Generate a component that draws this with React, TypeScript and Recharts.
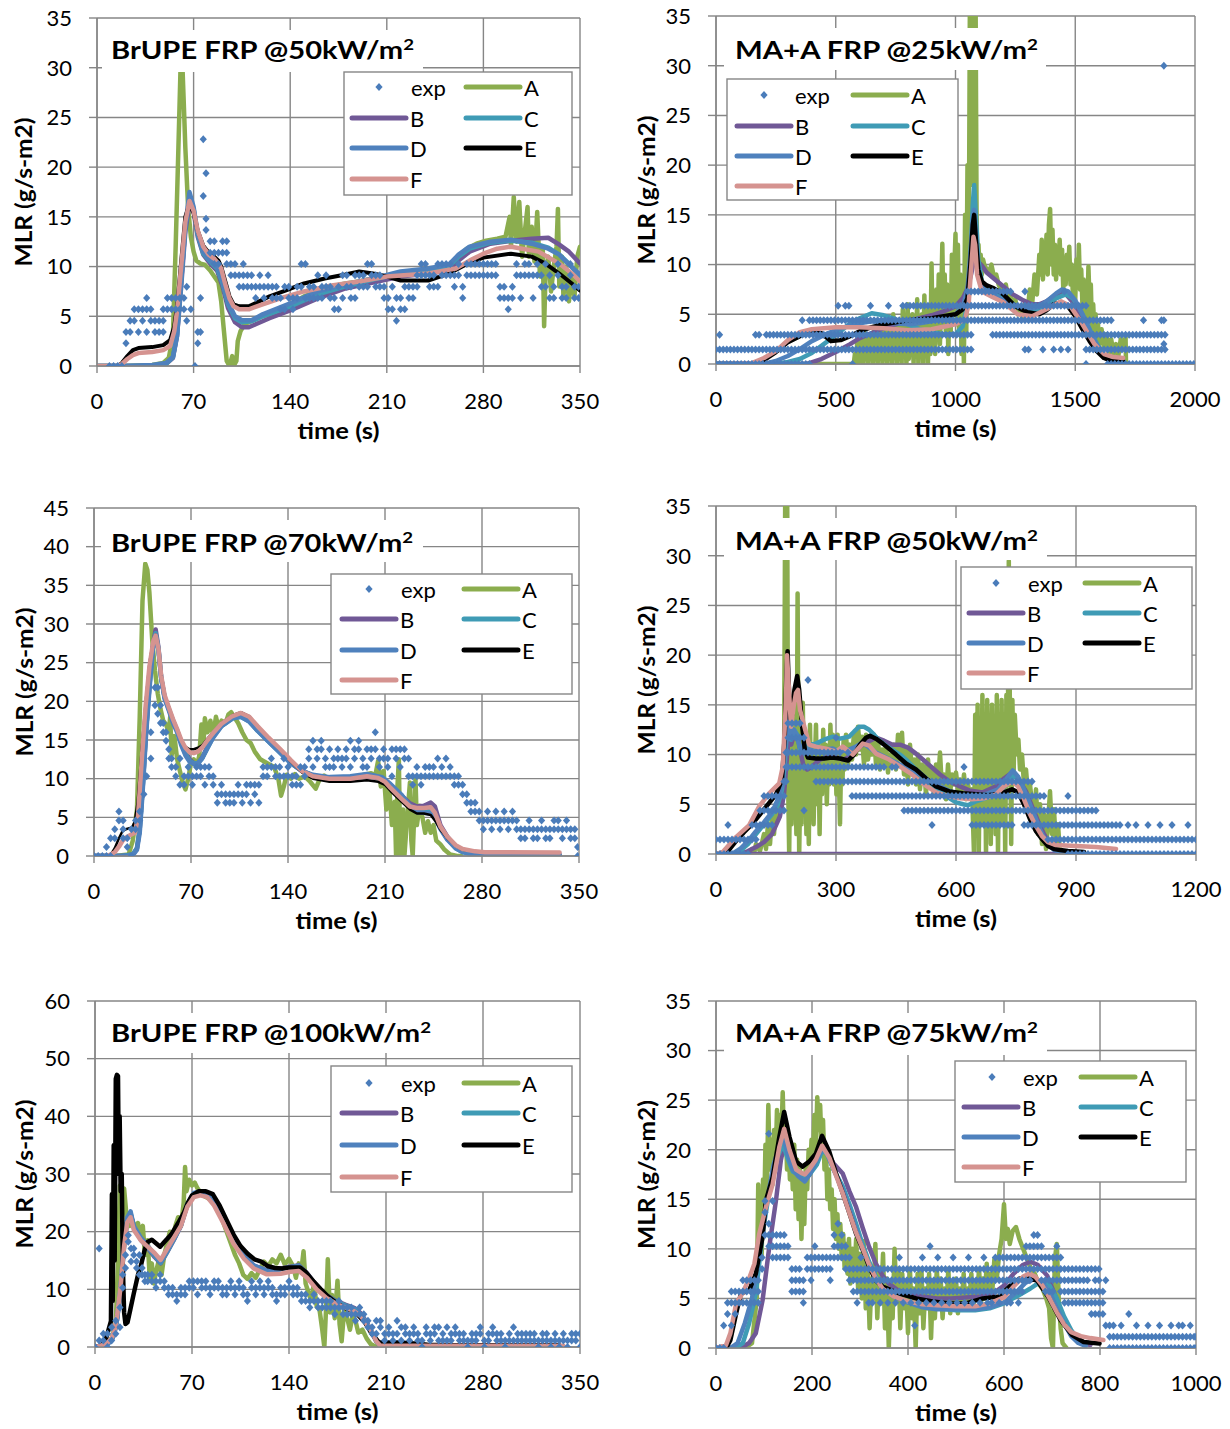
import React from 'react';
import { ComposedChart, Line, Scatter, XAxis, YAxis, CartesianGrid } from 'recharts';

const FONT = 'Lato, "Open Sans", sans-serif';
const GRID = '#868686';
const COLORS: Record<string, string> = { exp: '#4A7CBA', A: '#8BAD4E', B: '#705896', C: '#3F9BB5', D: '#4F81BD', E: '#000000', F: '#D59390' };

const ticks350 = [0, 70, 140, 210, 280, 350];
const ticks2000 = [0, 500, 1000, 1500, 2000];
const ticks1200 = [0, 300, 600, 900, 1200];
const ticks1000 = [0, 200, 400, 600, 800, 1000];
const yTicks35 = [0, 5, 10, 15, 20, 25, 30, 35];
const yTicks45 = [0, 5, 10, 15, 20, 25, 30, 35, 40, 45];
const yTicks60 = [0, 10, 20, 30, 40, 50, 60];

// ---------------- Panel 1: BrUPE FRP @50 ----------------
const p1A = [[0,0],[10,0],[20,0],[30,0.05],[40,0.1],[48,0.3],[52,0.8],[55,3],[57,12],[59,22],[60.5,29.8],[62,29.8],[63,26],[64,22],[66,16],[68,13],[70,11.5],[72,10.6],[75,10.3],[78,10.2],[82,9.6],[86,8.8],[88,8.4],[90,6.5],[92,3.5],[94,0.5],[96,0],[98,1],[99,0],[101,0.5],[102,2.5],[104,3.5],[107,4.2],[110,4.4],[115,4.7],[120,5],[130,5.5],[140,6.2],[150,7],[160,7.5],[170,8],[180,8.3],[190,8.5],[200,8.8],[210,9],[220,9.2],[230,9.3],[240,9.5],[250,9.7],[258,10],[262,11],[268,11.8],[275,12.3],[282,12.6],[290,12.8],[296,13],[299,15],[300,12],[302,17],[304,12.5],[306,16.5],[308,11],[310,13.5],[312,16],[313,11],[315,14],[317,10.5],[319,15.5],[321,9],[323,12],[324,4],[325,9],[327,11],[329,7.5],[331,10],[333,12],[334,15.8],[335,8],[337,11],[338,7],[340,10],[342,6.5],[344,9],[346,7],[348,11],[350,12]];
const p1B = [[0,0],[20,0],[40,0],[50,0.2],[55,0.8],[58,3],[61,8],[64,13.5],[67,16.3],[70,15.5],[73,13],[77,11.2],[82,10.3],[87,9.6],[91,8],[95,5.8],[100,4.4],[105,3.9],[110,3.9],[115,4.2],[125,4.8],[140,5.6],[160,6.8],[180,7.8],[200,8.4],[220,9],[240,9.3],[255,9.6],[262,10.6],[270,11.5],[285,12.3],[300,12.6],[315,12.8],[327,12.9],[335,12.2],[342,11.5],[350,10.3]];
const p1C = [[0,0],[20,0],[40,0],[50,0.2],[55,0.9],[58,3.2],[61,8.5],[64,14],[67,17],[70,15.8],[73,13.2],[77,11.3],[82,10.5],[87,9.8],[91,8.3],[95,6.2],[100,4.8],[105,4.4],[112,4.5],[120,5],[140,6],[160,7.2],[180,8],[200,8.7],[220,9.3],[240,9.6],[255,10],[262,11],[270,11.8],[285,12.4],[300,12.6],[315,12.4],[327,11.9],[335,11.2],[342,10.3],[350,9]];
const p1D = [[0,0],[10,0],[20,0],[40,0.1],[50,0.3],[55,0.9],[58,3],[61,8.5],[64,14],[67,17.5],[70,16],[73,13.3],[77,11.5],[82,10.6],[87,10],[91,8.6],[95,6.4],[100,5],[105,4.6],[112,4.6],[120,5.2],[140,6.3],[160,7.5],[180,8.2],[200,8.8],[220,9.5],[240,9.8],[255,10.2],[262,11.2],[270,12],[285,12.5],[300,12.7],[315,12.3],[327,11.8],[335,11.2],[342,10.2],[350,9.2]];
const p1E = [[0,0],[15,0],[18,0.3],[22,1],[26,1.6],[30,1.8],[40,1.9],[48,2.1],[53,2.6],[56,4],[58,6],[61,10.5],[64,15],[67,16.3],[70,15.4],[73,13.6],[77,12.1],[81,11.4],[85,11],[88,10.6],[90,10],[93,8.5],[96,7],[99,6.2],[103,6],[110,6],[116,6.4],[125,7],[137,7.6],[150,8.3],[165,8.8],[180,9.2],[190,9.5],[200,9.3],[210,9],[220,8.6],[240,8.6],[255,9.3],[262,9.8],[270,10.4],[280,10.9],[300,11.3],[315,11],[325,10.3],[335,9.3],[345,8.2],[350,7.6]];
const p1F = [[0,0],[15,0],[18,0.2],[22,0.7],[26,1.1],[30,1.3],[40,1.4],[48,1.6],[53,2],[56,3.5],[58,5.5],[61,10],[64,14.5],[67,16.6],[70,15.6],[73,13.6],[77,12],[81,11.2],[85,10.8],[88,10.3],[90,9.8],[93,8.2],[96,6.8],[99,6],[103,5.7],[110,5.7],[120,6.2],[135,6.9],[150,7.5],[170,8.1],[190,8.5],[210,9],[240,9.3],[260,9.8],[270,10.6],[280,11.3],[290,11.8],[300,12],[320,11.5],[335,10.3],[345,9.2],[350,8.5]];
const p1Exp = [[9,0],[12,0],[15,0],[18,0],[21,2.28,3.42],[24,3.42,4.56],[27,4.56,5.7],[30,3.42,5.7],[33,4.56,5.7],[36,3.42,5.7,6.84],[39,4.56,5.7],[42,3.42,4.56],[45,4.56,3.42],[48,5.7,4.56,3.42],[51,5.7,6.84],[54,6.84,5.7],[57,5.7,6.84],[60,6.84,5.7],[63,5.7,6.84],[65,7.98,4.56],[68,5.7],[71,0],[73,2.28,3.42],[75,3.42,6.84],[77,22.8,17.1],[79,19.38,14.82,13.68],[82,12.54,11.4],[85,12.54,11.4,10.26],[88,11.4,10.26],[91,12.54,11.4],[94,11.4,10.26,12.54],[97,10.26,9.12],[100,10.26,9.12],[103,9.12,7.98],[106,7.98,9.12,10.26],[109,9.12,7.98],[112,9.12,7.98],[115,7.98,6.84],[118,9.12,7.98],[121,7.98,6.84],[124,9.12,7.98],[127,6.84,7.98],[130,7.98,6.84],[133,6.84,5.7],[136,7.98,5.7],[139,6.84,7.98],[142,5.7,6.84],[145,6.84,7.98],[148,10.26,7.98],[151,10.26,6.84],[154,7.98,6.84],[157,7.98,6.84],[160,6.84,9.12],[163,7.98,6.84],[166,9.12,7.98],[169,7.98,6.84],[172,6.84,5.7],[175,7.98,5.7],[178,9.12,6.84],[181,7.98,9.12],[184,6.84,7.98],[187,9.12,6.84],[190,7.98,9.12],[193,9.12,7.98],[196,10.26,7.98],[199,10.26,9.12],[202,9.12,7.98],[205,7.98,9.12],[208,7.98,6.84],[211,6.84,5.7],[214,5.7,7.98],[217,6.84,4.56],[220,5.7,6.84],[223,5.7,7.98],[226,6.84,7.98],[229,7.98,6.84],[232,9.12,7.98],[235,10.26,9.12],[238,9.12,10.26],[241,7.98,9.12],[244,9.12,7.98],[247,7.98,10.26],[250,10.26,9.12],[253,9.12,10.26],[256,10.26,9.12],[259,9.12,7.98],[262,10.26,9.12],[265,7.98,6.84],[268,10.26,9.12],[271,10.26,9.12],[274,9.12,10.26],[277,10.26,9.12],[280,9.12,10.26],[283,10.26,9.12],[286,9.12,10.26],[289,10.26,9.12],[292,7.98,6.84],[295,6.84,7.98],[298,5.7,6.84],[301,6.84,7.98],[304,10.26,9.12],[307,9.12,6.84],[310,10.26,9.12],[313,10.26,9.12],[316,9.12,6.84],[319,10.26,9.12],[322,9.12,7.98],[325,10.26,7.98],[328,9.12,6.84],[331,7.98,6.84],[334,10.26,9.12],[337,7.98,6.84],[340,6.84,7.98],[343,10.26,9.12],[346,6.84,7.98],[349,7.98,6.84]];

// ---------------- Panel 2: MA+A FRP @25 ----------------
const p2A = [[0,0],[380,0],[500,0],[575,0],[580,1],[585,0],[590,2.5],[595,0],[600,3],[605,0.3],[610,2],[615,0],[620,3.5],[625,0.5],[630,2.5],[635,0],[640,3],[645,1],[650,2.5],[655,0],[660,3.5],[665,0.5],[670,2],[675,0],[680,3],[685,1],[690,3.5],[695,0],[700,2.5],[705,0.5],[710,4],[715,0],[720,3],[725,1],[730,3.5],[735,0],[740,5],[745,1],[750,3],[755,0],[760,4],[765,0.5],[770,3],[775,0],[780,5.5],[785,1],[790,4],[795,0],[800,6],[805,0.5],[810,3.5],[815,1.5],[820,5],[825,0],[830,4.5],[835,1],[840,6.5],[845,0],[850,4],[855,1],[860,5],[865,0],[870,6.9],[875,2],[880,4],[885,0],[890,5.5],[895,1],[900,10.1],[905,2],[910,6],[915,1],[920,7.5],[925,3],[930,9],[935,2],[940,6.5],[945,12.1],[950,4],[955,9],[960,3],[965,8],[970,1],[975,7],[980,3],[985,11],[990,5],[995,9.5],[1000,13.1],[1005,4],[1010,12],[1015,3],[1020,9],[1025,1],[1030,8],[1035,0],[1040,15],[1045,3],[1050,20],[1055,8],[1060,36],[1065,25],[1068,36],[1072,18],[1076,36],[1080,30],[1084,36],[1088,15],[1092,10],[1096,12],[1100,9.5],[1105,11],[1110,9],[1115,10.5],[1120,10],[1130,9.5],[1140,9.2],[1150,10],[1160,8.8],[1170,9],[1180,8],[1190,7.5],[1200,7.2],[1210,8],[1220,6.5],[1230,7],[1240,6],[1250,6.5],[1260,5],[1270,5.5],[1280,4.5],[1290,6],[1300,5],[1310,7.5],[1320,6],[1330,9],[1340,7],[1350,11],[1355,9],[1360,12.5],[1365,8.5],[1370,11.5],[1375,10],[1380,13],[1385,9],[1390,14],[1395,15.6],[1400,10],[1405,13.5],[1410,9],[1415,12],[1420,8.5],[1425,11],[1430,10],[1435,12.5],[1440,9],[1445,11.5],[1450,7.5],[1455,10.5],[1460,8],[1465,11],[1470,9],[1475,11.8],[1480,8],[1485,10],[1490,7],[1495,9.5],[1500,6.5],[1505,10.5],[1510,8],[1515,12],[1520,7.5],[1525,9.5],[1530,6],[1535,8.5],[1540,5],[1545,7.5],[1550,4.5],[1555,9.8],[1560,6],[1565,8],[1570,3.5],[1575,6],[1580,3],[1585,5],[1590,2.5],[1595,4],[1600,2],[1610,3.5],[1620,1.5],[1630,3],[1640,1],[1650,2.5],[1660,1],[1670,2],[1680,0.8],[1690,2.5],[1700,1.5],[1710,2.7],[1712,0]];
const p2B = [[0,0],[380,0],[440,0.5],[500,1.2],[560,2],[600,2.6],[650,3.1],[700,3.6],[750,4],[800,4.3],[850,4.6],[900,4.9],[950,5.3],[1000,5.8],[1030,6.6],[1050,7.6],[1065,9],[1078,10.5],[1090,10.4],[1110,9.9],[1130,9.2],[1160,8.6],[1200,7.8],[1240,7],[1283,6.4],[1320,6],[1350,6],[1380,6.3],[1410,6.8],[1440,7.1],[1465,6.9],[1490,6.2],[1520,5],[1550,3.6],[1580,2.2],[1610,1.1],[1640,0.5],[1670,0.3],[1700,0.3]];
const p2C = [[0,0],[250,0],[300,0.2],[350,0.5],[400,1.1],[450,2],[500,2.9],[550,3.9],[600,4.6],[650,5.1],[700,4.9],[750,4.5],[800,4],[850,3.5],[900,3.2],[950,3],[1000,3],[1030,3.8],[1050,6],[1062,10],[1072,16],[1078,18],[1085,15],[1095,10.5],[1110,8.3],[1130,7.6],[1160,7.2],[1200,6.6],[1250,5.9],[1300,5.4],[1340,5.4],[1380,5.9],[1420,6.6],[1460,7],[1490,6.6],[1520,5.5],[1550,4],[1580,2.5],[1610,1.2],[1640,0.4],[1670,0.2],[1700,0.2]];
const p2D = [[0,0],[200,0],[250,0.3],[300,0.8],[350,1.5],[400,2.3],[450,2.9],[500,3.4],[550,3.8],[600,4.1],[650,4.3],[700,4.2],[750,4.1],[800,4],[850,4.1],[900,4.3],[950,4.6],[1000,5],[1030,5.7],[1050,7.5],[1062,11],[1072,14.5],[1078,15.5],[1085,13],[1095,9.5],[1110,8],[1130,7.3],[1160,6.9],[1200,6.4],[1250,5.9],[1300,5.6],[1340,5.7],[1380,6.3],[1420,7.1],[1445,7.5],[1470,7.3],[1500,6.4],[1530,5],[1560,3.4],[1590,1.9],[1620,0.8],[1650,0.3],[1700,0.2]];
const p2E = [[0,0],[150,0],[200,0.4],[250,1.2],[300,2.2],[350,2.8],[400,3.2],[440,3.1],[480,2.3],[520,2.4],[560,2.8],[600,3.3],[650,3.7],[700,4],[750,4.2],[800,4.4],[850,4.5],[900,4.6],[950,4.8],[1000,5],[1030,5.5],[1050,6.6],[1062,10],[1072,14],[1078,15],[1085,12.5],[1095,9.5],[1110,8.3],[1130,7.9],[1160,7.6],[1200,7],[1250,5.8],[1300,5.2],[1350,5],[1380,5.4],[1410,6],[1440,6.2],[1470,5.8],[1500,4.8],[1530,3.5],[1560,2.3],[1590,1.3],[1620,0.6],[1650,0.3],[1700,0.25]];
const p2F = [[0,0],[150,0.1],[200,0.6],[250,1.3],[300,2.4],[350,3.2],[400,3.5],[500,3.7],[600,3.7],[700,3.6],[800,3.4],[900,3.5],[1000,4],[1040,4.5],[1055,6],[1065,9.5],[1075,12.8],[1082,12],[1090,9],[1110,7.3],[1150,6.8],[1200,6.2],[1260,5],[1320,4.8],[1380,5.5],[1440,6.3],[1480,5.8],[1530,4],[1580,2],[1620,1],[1660,0.7],[1700,0.6]];
const p2Exp = [[0,0,1.46],[15,0,1.46,2.93],[30,0,1.46],[45,0,1.46],[60,0,1.46],[75,0,1.46],[90,0,1.46],[105,0,1.46],[120,0,1.46],[135,0,1.46],[150,0,1.46],[165,0,1.46,2.93],[180,0,1.46,2.93],[195,0,1.46],[210,0,1.46,2.93],[225,0,1.46,2.93],[240,0,1.46,2.93],[255,0,1.46,2.93],[270,0,1.46,2.93],[285,0,1.46,2.93],[300,0,1.46,2.93],[315,0,1.46,2.93],[330,0,1.46,2.93],[345,0,1.46,2.93],[360,0,1.46,2.93,4.39],[375,0,1.46,2.93],[390,0,1.46,2.93,4.39],[405,1.46,2.93,4.39],[420,1.46,2.93,4.39],[435,1.46,2.93,4.39],[450,1.46,2.93,4.39],[465,1.46,2.93,4.39],[480,1.46,2.93,4.39],[495,1.46,2.93,4.39],[510,1.46,2.93,4.39,5.85],[525,1.46,2.93,4.39],[540,1.46,2.93,4.39,5.85],[555,1.46,2.93,4.39,5.85],[570,0,1.46,2.93,4.39],[585,1.46,2.93,4.39],[600,1.46,2.93,4.39],[615,1.46,2.93,4.39],[630,1.46,2.93,4.39],[645,1.46,2.93,4.39,5.85],[660,1.46,2.93,4.39],[675,1.46,2.93,4.39],[690,1.46,2.93,4.39],[705,1.46,2.93,4.39],[720,1.46,2.93,4.39,5.85],[735,1.46,2.93,4.39],[750,1.46,2.93,4.39],[765,1.46,2.93,4.39],[780,1.46,2.93,4.39,5.85],[795,1.46,2.93,4.39,5.85],[810,1.46,2.93,4.39,5.85],[825,1.46,2.93,4.39,5.85],[840,1.46,2.93,4.39,5.85],[855,1.46,2.93,4.39,5.85],[870,1.46,2.93,4.39,5.85],[885,1.46,2.93,4.39,5.85],[900,1.46,2.93,4.39,5.85],[915,1.46,2.93,4.39,5.85],[930,1.46,2.93,4.39,5.85],[945,1.46,2.93,4.39,5.85],[960,1.46,2.93,4.39,5.85],[975,1.46,2.93,4.39,5.85],[990,1.46,2.93,4.39,5.85],[1005,1.46,2.93,4.39,5.85],[1020,1.46,2.93,4.39,5.85],[1035,1.46,2.93,4.39,5.85],[1050,1.46,2.93,4.39,5.85,7.3],[1065,1.46,2.93,4.39,5.85,7.3],[1080,4.39,5.85,7.3],[1095,4.39,5.85,7.3],[1110,4.39,5.85,7.3],[1125,4.39,5.85,7.3],[1140,4.39,5.85,7.3],[1155,2.93,4.39,5.85,7.3],[1170,2.93,4.39,5.85,7.3],[1185,2.93,4.39,5.85,7.3],[1200,2.93,4.39,5.85,7.3],[1215,2.93,4.39,5.85,7.3],[1230,2.93,4.39,5.85,7.3],[1245,2.93,4.39,5.85],[1260,2.93,4.39,5.85],[1275,2.93,4.39,5.85],[1290,1.46,2.93,4.39,5.85,7.3],[1305,1.46,2.93,4.39,5.85],[1320,2.93,4.39,5.85],[1335,2.93,4.39,5.85],[1350,2.93,4.39,5.85],[1365,1.46,2.93,4.39,5.85],[1380,2.93,4.39,5.85],[1395,2.93,4.39,5.85],[1410,1.46,2.93,4.39,5.85],[1425,2.93,4.39,5.85],[1440,1.46,2.93,4.39,5.85],[1455,2.93,4.39,5.85,7.3],[1470,1.46,2.93,4.39,5.85],[1485,2.93,4.39,5.85],[1500,2.93,4.39,5.85],[1515,2.93,4.39,5.85],[1530,2.93,4.39,5.85],[1545,0,1.46,2.93,4.39,5.85],[1560,1.46,2.93,4.39],[1575,1.46,2.93,4.39],[1590,1.46,2.93,4.39],[1605,1.46,2.93,4.39],[1620,1.46,2.93,4.39],[1635,0,1.46,2.93,4.39],[1650,0,1.46,2.93,4.39],[1665,0,1.46,2.93],[1680,0,1.46,2.93],[1695,0,1.46,2.93],[1710,0,1.46,2.93],[1725,0,1.46,2.93],[1740,0,1.46,2.93],[1755,0,1.46,2.93],[1770,0,1.46,2.93],[1785,0,1.46,2.93,4.39],[1800,0,1.46,2.93],[1815,0,1.46,2.93],[1830,0,1.46,2.93],[1845,0,1.46,2.93],[1860,0,1.46,2.93,4.39],[1870,30,2.0,4.39],[1875,0,1.46,2.93],[1890,0],[1905,0],[1920,0],[1935,0],[1950,0],[1965,0],[1980,0],[1995,0]];

// ---------------- Panel 3: BrUPE FRP @70 ----------------
const p3A = [[0,0],[15,0],[25,0.2],[28,2],[31,6],[33,18],[35,33],[37,37.8],[38.5,37],[40,34],[42,28],[44,24],[46,21],[48,19],[50,17.5],[52,17],[54,16],[55,18],[56,13],[58,15.5],[60,12.5],[62,11],[64,9.5],[66,8.6],[68,10],[70,12],[72,12.5],[74,11.5],[76,13],[77.5,17],[79,14.5],[80,17.8],[82,16],[84,17.5],[86,15.5],[88,18],[90,16.5],[92,17.5],[95,17.2],[97,18.3],[99,18.6],[101,18],[104,17.2],[107,16],[110,15],[113,14.6],[116,13.5],[120,12.5],[125,12],[130,11.5],[133,10],[135,7.8],[137,9],[139,10.5],[142,10],[145,10.6],[148,10],[152,10.3],[156,9.6],[160,8.7],[163,10],[166,10.4],[170,9.8],[175,10],[180,10.1],[185,10],[190,10.3],[195,10.5],[200,10.7],[203,10.4],[205,12.3],[207,9],[209,11],[211,6],[213,9],[215,4],[217,7],[218,0],[219,9],[220,12.5],[221,0],[223,6],[224,0],[226,5],[228,9.5],[229,2],[230,0],[232,10],[233,4],[235,6.5],[237,5],[239,3],[241,4.5],[243,3],[245,4],[247,2],[250,1.5],[253,0.8],[257,0.2],[262,0],[265,0]];
const p3B = [[0,0],[20,0],[28,0.2],[31,1],[33,3.5],[35,8.5],[37.5,16],[40,22],[42.5,27.2],[44.5,29.3],[46.5,27],[48.5,23],[51,20.5],[54,19],[57,17.5],[60,16.2],[63,14.8],[66,13.5],[69,12.5],[72,12],[75,12],[78,12.7],[82,14.2],[86,15.5],[92,17],[100,18],[106,18.2],[112,17.6],[118,16.4],[126,15],[134,13.6],[142,12.1],[150,11],[158,10.4],[170,10],[185,10],[197,10.3],[208,10],[214,9],[222,7.8],[228,6.8],[233,6.4],[238,6.5],[243,6.9],[246,6.4],[250,4],[255,2.5],[261,1.2],[266,0.6],[275,0.3],[285,0.2],[300,0.2],[336,0.2]];
const p3C = [[0,0],[20,0],[28,0.2],[31,1],[33,3.5],[35,8.5],[37.5,16],[40,22],[42.5,27],[44.5,28.8],[46.5,26.8],[48.5,23],[51,20.5],[54,19],[57,17.5],[60,16.2],[63,14.6],[66,13.2],[69,12.3],[72,12],[75,12],[78,12.6],[82,14],[86,15.4],[92,16.8],[100,17.8],[106,18],[112,17.4],[118,16.2],[126,14.8],[134,13.4],[142,12],[150,11],[158,10.4],[170,10.1],[185,10.2],[197,10.5],[208,10.1],[214,9.2],[222,7.8],[228,6.5],[233,5.9],[238,5.9],[243,5.8],[246,5.2],[250,3.6],[255,2.2],[261,1],[266,0.5],[275,0.15],[300,0.1],[336,0.1]];
const p3D = [[0,0],[20,0],[28,0.1],[31,0.8],[33,3],[35,8],[37.5,15.5],[40,21.5],[42.5,26.8],[44.5,28.6],[46.5,26.6],[48.5,23],[51,20.3],[54,18.8],[57,17.2],[60,16],[63,14.3],[66,13],[69,12.2],[72,11.9],[75,12],[78,12.6],[82,14],[86,15.3],[92,16.8],[100,17.8],[106,18],[112,17.4],[118,16.2],[126,14.8],[134,13.4],[142,12],[150,11],[158,10.5],[170,10.2],[185,10.3],[197,10.6],[208,10.2],[214,9.3],[222,7.9],[228,6.4],[233,5.7],[238,5.6],[243,5.5],[246,5],[250,3.5],[255,2.1],[261,1],[266,0.5],[275,0.15],[300,0.1],[336,0.1]];
const p3E = [[0,0],[10,0],[12.5,0.3],[15,1],[18,2.3],[20.5,3.2],[23.5,3.5],[27.5,3.7],[29.5,4.5],[31.5,7],[34.5,14],[37.3,20],[40,25],[42.8,28],[44.5,28.6],[46.5,26.8],[48.5,23.3],[51,20.8],[54,19.2],[57,17.7],[60,16.4],[63,15],[66,14.1],[69,13.8],[72,13.8],[75,14],[78,14.3],[82,15.2],[86,16],[92,17.2],[100,18.2],[106,18.6],[112,18.1],[118,16.8],[126,15.3],[134,13.8],[142,12.2],[150,10.8],[158,10],[170,9.6],[185,9.6],[197,9.8],[205,9.6],[210,9.2],[214,8.4],[222,7],[228,6],[233,5.5],[238,5.5],[243,5.3],[246,4.6],[250,3.4],[255,2.3],[261,1.3],[266,0.8],[275,0.6],[282,0.5],[336,0.45]];
const p3F = [[0,0],[10,0],[15,0.5],[18,1.2],[20.7,2],[24,2.5],[27,2.8],[29.5,3],[31.7,5],[34.5,12.5],[37.3,19.5],[40,24.5],[42.8,27.8],[44.5,28.5],[46.5,26.8],[48.5,23.3],[51,20.8],[54,19.2],[57,17.7],[60,16.4],[63,15],[66,14],[69,13.4],[72,13.3],[75,13.5],[78,14],[82,15],[86,15.9],[92,17.1],[100,18.1],[106,18.5],[112,18],[118,16.8],[126,15.3],[134,13.9],[142,12.4],[150,11],[158,10.3],[170,10],[185,10],[197,10.3],[205,10.1],[210,9.6],[214,8.8],[222,7.4],[228,6.4],[233,6.2],[238,6.2],[243,6.3],[246,5.6],[250,3.8],[255,2.5],[261,1.4],[266,0.9],[275,0.6],[282,0.5],[336,0.45]];
const p3Exp = [[0,0],[3,0],[6,0],[9,0,1.15],[12,2.3,0],[15,2.3,3.45],[18,5.75,4.6],[21,4.6,3.45,2.3],[24,2.3,1.15],[27,0,3.45],[30,4.6,3.45],[33,5.75,4.6],[36,8.0],[38,10.3],[41,12.6,16],[44,21.8,19.5],[46,21.8,18.4],[48,17.2,19.5],[50,16,17.2],[52,14.9,16],[54,13.8,12.6],[56,12.6,11.5],[59,11.5,10.3],[62,9.2,12.6],[65,10.3,9.2],[68,11.5,10.3],[71,9.2,10.3],[74,11.5,10.3],[77,10.3,11.5],[80,9.2,11.5],[83,10.3,11.5],[86,9.2,10.3],[89,8.0,6.9],[92,9.2,8.0],[95,6.9,8.0],[98,8.0,6.9],[101,6.9,8.0],[104,8.0,9.2],[107,6.9,8.0],[110,8.0,9.2],[113,9.2,6.9],[116,8.0,9.2],[119,6.9,9.2],[122,11.5,10.3],[125,10.3,11.5],[128,11.5,12.6],[131,10.3,11.5],[134,11.5,10.3],[137,12.6,10.3],[140,11.5,10.3],[143,10.3,9.2],[146,9.2,10.3],[149,11.5,9.2],[152,10.3,11.5],[155,13.8,12.6],[158,14.9,11.5],[161,13.8,12.6],[164,14.9,13.8],[167,12.6,11.5],[170,13.8,11.5],[173,11.5,12.6],[176,12.6,13.8],[179,11.5,12.6],[182,13.8,12.6],[185,14.9,11.5],[188,12.6,13.8],[191,13.8,14.9],[194,11.5,12.6],[197,13.8,11.5],[200,12.6,13.8],[203,16,13.8],[206,11.5,12.6],[209,13.8,12.6],[212,12.6,11.5],[215,13.8,10.3],[218,12.6,13.8],[221,11.5,13.8],[224,13.8,12.6],[227,12.6,10.3],[230,10.3,9.2],[233,10.3,11.5],[236,9.2,10.3],[239,10.3,11.5],[242,10.3,11.5],[245,11.5,10.3],[248,10.3,12.6],[251,11.5,10.3],[254,12.6,10.3],[257,10.3,11.5],[260,9.2,10.3],[263,10.3,9.2],[266,8.0,9.2],[269,6.9,8.0],[272,5.75,6.9],[275,6.9,5.75],[278,5.75,4.6],[281,4.6,3.45],[284,4.6,5.75],[287,3.45,4.6],[290,5.75,4.6],[293,4.6,3.45],[296,5.75,4.6],[299,3.45,4.6],[302,4.6,5.75],[305,3.45,4.6],[308,2.3,3.45],[311,3.45,2.3],[314,4.6,3.45],[317,2.3,3.45],[320,3.45,2.3],[323,4.6,3.45],[326,3.45,2.3],[329,2.3,3.45],[332,3.45,4.6],[335,4.6,3.45],[338,2.3,3.45],[341,3.45,4.6],[344,2.3,3.45],[347,3.45,2.3],[349,1.15,0]];

// ---------------- Panel 4: MA+A FRP @50 ----------------
const p4A = [[0,0],[80,0],[90,0.5],[95,0],[100,1],[110,0.3],[120,2],[125,0.5],[130,3],[135,1],[140,4],[145,2],[150,5],[155,3.5],[160,6],[165,5],[170,7],[173,36],[178,36],[180,8],[183,0],[186,12],[189,3],[192,14],[195,6],[198,10],[201,2],[204,26.2],[206,10],[208,0],[211,8],[214,3],[217,15.2],[220,6],[223,12],[226,2],[229,9],[232,1],[235,13],[238,5],[241,11],[244,3],[247,9],[250,13],[253,5],[256,11],[259,2],[262,10],[265,6],[268,12.5],[271,8],[274,11],[277,5],[280,10],[283,7],[286,13],[289,9],[292,12],[295,7],[298,11],[301,6],[304,12],[307,8],[310,3],[313,10],[316,7],[319,11.5],[322,8.5],[325,12],[330,9],[335,11],[340,9.5],[345,12.2],[350,10],[355,12.8],[360,10.5],[365,11.8],[370,9],[375,12],[380,9.5],[385,11],[390,10],[395,12],[400,9],[405,11.5],[410,8.5],[415,10.5],[420,9],[425,11],[430,8.2],[435,10],[440,9],[445,11],[450,8.5],[455,12],[460,9.5],[465,12.2],[470,8],[475,10.5],[480,7],[485,11],[490,8],[495,9.5],[500,7],[505,10],[510,6.5],[515,9],[520,8.8],[525,6],[530,9.5],[535,7],[540,8.5],[545,6],[550,9],[555,7],[560,10.2],[565,6.5],[570,8],[575,5.5],[580,9],[585,6],[590,8],[595,7],[600,8.2],[605,6.5],[610,7.5],[615,6],[620,8],[625,5.5],[630,7],[635,5.8],[640,6.5],[645,0],[648,14],[651,2],[654,15],[657,0],[660,12],[663,3],[666,16],[669,5],[672,14],[675,0],[678,15.5],[681,8],[684,13],[687,1],[690,15],[693,6],[696,13],[699,2],[702,16],[705,0],[708,12],[711,5],[714,15.5],[717,3],[720,14],[723,0],[726,16],[729,7],[732,29.5],[735,13],[738,1],[741,15.5],[744,8],[747,14],[750,11.5],[753,10],[756,11.5],[760,8.5],[765,10],[770,7],[775,8.5],[780,6],[785,7],[790,5],[795,4],[800,6.5],[805,2],[810,5],[815,1],[820,4],[825,0.5],[830,3],[835,6.3],[840,2],[845,4.5],[850,0.5],[855,3],[860,0],[880,0]];
const p4B = [[0,0],[60,0],[80,0.3],[100,0.7],[120,1.2],[140,2],[160,3.8],[170,6],[178,10],[183,12.5],[188,11],[195,12],[203,12],[210,10.5],[218,9],[228,8.5],[240,8.8],[260,9.5],[280,9.8],[300,9.7],[320,9.5],[340,10],[360,10.8],[380,11.3],[400,11.7],[420,11.4],[440,11],[460,11],[480,10.7],[500,10.1],[520,9.4],[540,8.7],[560,8],[583,7.3],[610,6.8],[633,6.4],[667,6.2],[700,6.8],[720,7.6],[740,8.2],[755,7.6],[775,6.3],[790,4.8],[805,3.3],[820,2],[835,1],[850,0.5],[870,0.2],[924,0],[0,0]];
const p4C = [[0,0],[40,0],[60,0.3],[80,1],[100,2],[120,3],[140,4],[155,5],[165,6.5],[172,9],[178,13],[183,13.5],[188,11.5],[195,12.5],[203,12],[210,10.5],[220,10.8],[235,11],[250,11.1],[270,11.5],[292,11.8],[310,11.6],[333,11.8],[345,12.3],[358,12.8],[370,12.8],[383,12.5],[395,12],[408,11.4],[425,10.9],[440,10.5],[460,10],[480,9.3],[500,8.5],[520,7.8],[540,7],[560,6.3],[580,5.7],[600,5.2],[618,5],[630,4.9],[650,5.3],[680,5.7],[710,6.3],[730,7.2],[745,7.9],[760,7.3],[775,6],[790,4.3],[805,2.8],[820,1.6],[835,0.8],[850,0.4],[870,0.2]];
const p4D = [[0,0],[40,0],[60,0.5],[80,1.3],[100,2.3],[120,3.2],[140,4.2],[155,5.5],[165,7],[172,10],[178,14],[183,13],[188,12],[195,12.5],[203,11.8],[210,10.8],[220,10.5],[235,10.5],[250,10.3],[270,10.5],[292,10.6],[310,10.3],[333,10.5],[350,10.8],[365,11.2],[380,10.8],[400,10.2],[420,9.8],[440,9.4],[460,9],[480,8.6],[500,8.2],[520,7.7],[540,7.2],[560,6.8],[580,6.4],[600,6.1],[620,5.9],[650,5.8],[680,6.1],[705,6.5],[725,7.5],[742,8.4],[755,7.8],[770,6.5],[785,5],[800,3.5],[815,2],[830,1],[845,0.4],[870,0.2]];
const p4E = [[0,0],[15,0],[30,0.3],[50,1.3],[70,2.2],[90,3],[110,4],[130,5],[150,6],[165,7.5],[172,12],[176,18],[179,20.4],[182,17],[186,13],[190,14],[196,16.5],[203,17.9],[208,16.5],[215,13],[222,10.5],[230,9.7],[250,9.6],[270,9.6],[290,9.7],[310,9.6],[330,9.4],[345,10],[360,11],[375,11.7],[385,11.9],[400,11.6],[417,11.1],[435,10.5],[450,10],[475,9.1],[500,8.5],[525,7.6],[550,6.8],[583,6.3],[617,6.1],[650,6],[680,5.9],[700,6],[720,6.2],[740,6.5],[755,6.2],[770,5],[785,3.5],[800,2.3],[815,1.5],[830,0.8],[845,0.5],[860,0.4],[880,0.3],[920,0.2]];
const p4F = [[0,0],[17,0.2],[50,1.7],[83,2.9],[108,4.8],[133,6.1],[158,7.1],[167,8.8],[175,15.5],[177.5,20],[182,16.8],[187.5,12.8],[194,14.8],[200,16.2],[205,16.5],[210,14.5],[221,12.8],[233,11],[250,10.8],[275,10.6],[300,10.3],[317,10.8],[342,10],[367,11.1],[383,10.9],[400,10.1],[433,9.5],[460,8.8],[490,8],[520,7],[550,6.2],[580,5.8],[610,5.6],[640,5.5],[670,5.6],[700,6],[720,6.8],[740,7.3],[755,6.8],[770,5.5],[785,4],[800,2.8],[815,1.8],[830,1.2],[850,0.9],[900,0.8],[950,0.7],[1000,0.5]];
const p4Exp = [[0,0,1.46],[10,0,1.46],[20,0,1.46],[30,0,1.46,2.92],[40,0,1.46],[50,0,1.46],[60,0,1.46],[70,0,1.46],[80,0,1.46],[90,1.46,2.92],[100,1.46,2.92],[110,2.92,4.38],[120,2.92,4.38,5.84],[130,2.92,4.38,5.84],[140,2.92,4.38,5.84],[150,4.38,5.84],[160,4.38,5.84],[170,4.38,5.84,7.3],[175,8.76,10.22,7.3],[180,8.76,10.22,11.68,13.14],[190,10.22,11.68,13.14,8.76],[200,10.22,11.68,13.14,8.76],[210,8.76,10.22,11.68,13.14],[220,8.76,10.22,11.68,4.38],[230,17.5,8.76,10.22],[240,8.76,10.22],[250,7.3,8.76,10.22],[260,7.3,8.76,10.22],[270,7.3,8.76,10.22],[280,7.3,8.76,10.22],[290,7.3,8.76,10.22],[300,7.3,8.76,10.22,11.68],[310,7.3,8.76,10.22],[320,7.3,8.76],[330,7.3,8.76,10.22],[340,5.84,7.3,8.76],[350,5.84,7.3,8.76],[360,5.84,7.3,8.76],[370,5.84,7.3,8.76],[380,5.84,7.3,8.76],[390,5.84,7.3,8.76],[400,5.84,7.3,8.76],[410,5.84,7.3,8.76],[420,5.84,7.3,8.76],[430,5.84,7.3],[440,5.84,7.3,8.76],[450,5.84,7.3,8.76],[460,5.84,7.3],[470,4.38,5.84,7.3],[480,4.38,5.84,7.3],[490,4.38,5.84,7.3],[500,4.38,5.84,7.3],[510,4.38,5.84,7.3],[520,4.38,5.84,7.3],[530,4.38,5.84,7.3],[540,2.92,4.38,5.84,7.3],[550,4.38,5.84,7.3],[560,4.38,5.84,7.3],[570,4.38,5.84,7.3],[580,4.38,5.84,7.3],[590,4.38,5.84,7.3],[600,4.38,5.84,7.3],[610,4.38,5.84,7.3],[620,4.38,5.84,7.3,8.76],[630,4.38,5.84,7.3],[640,2.92,4.38,5.84,7.3],[650,2.92,4.38,5.84,7.3],[660,2.92,4.38,5.84,7.3],[670,2.92,4.38,5.84,7.3],[680,2.92,4.38,5.84,7.3],[690,2.92,4.38,5.84,7.3],[700,2.92,4.38,5.84,7.3],[710,2.92,4.38,5.84,7.3],[720,2.92,4.38,5.84,7.3],[730,2.92,4.38,5.84,7.3],[740,2.92,4.38,5.84,7.3],[750,4.38,5.84,7.3],[760,4.38,5.84,7.3],[770,2.92,4.38,5.84,7.3],[780,2.92,4.38,5.84,7.3],[790,2.92,4.38,5.84,7.3],[800,2.92,4.38,5.84],[810,2.92,4.38,5.84],[820,2.92,4.38,5.84],[830,1.46,2.92,4.38],[840,1.46,2.92,4.38],[850,1.46,2.92,4.38],[860,1.46,2.92,4.38],[870,1.46,2.92,4.38],[880,1.46,2.92,4.38,5.84,0],[890,1.46,2.92,4.38,0],[900,1.46,2.92,4.38,0],[910,1.46,2.92,4.38,0],[920,1.46,2.92,4.38,0],[930,1.46,2.92,4.38,0],[940,1.46,2.92,4.38,0],[950,1.46,2.92,4.38,0],[960,1.46,2.92,0],[970,1.46,2.92,0],[980,1.46,2.92,0],[990,1.46,2.92,0],[1000,1.46,2.92,0],[1010,1.46,2.92,0],[1020,1.46,0],[1030,1.46,0,2.92],[1040,1.46,0],[1050,1.46,0,2.92],[1060,1.46,0],[1070,1.46,0],[1080,1.46,0,2.92],[1090,1.46,0],[1100,1.46,0],[1110,1.46,0,2.92],[1120,1.46,0],[1130,1.46,0],[1140,1.46,0,2.92],[1150,1.46,0],[1160,1.46,0],[1170,1.46,0],[1180,1.46,0,2.92],[1190,1.46,0],[1200,1.46,0]];

// ---------------- Panel 5: BrUPE FRP @100 ----------------
const p5A = [[0,0],[8,0.5],[12,1.5],[15,4],[16.5,14],[18,28],[19.5,25],[21,27.5],[23,22],[25,21],[27,22],[29,20.5],[31,21.5],[33,19],[34.5,21],[36,16],[38,18.5],[39.5,12],[41,14.5],[42.5,11],[44,13],[46,15],[48,12.5],[50,16],[52,18],[54,20],[56,18.5],[58,21],[60,22.5],[62,21],[64,25],[65,31.2],[66,27],[68,29],[70,28],[72,28.5],[74,27.5],[77,26.5],[80,26],[84,25.5],[88,24],[92,22],[95,20],[98,18],[101,16],[104,14.5],[107,12.5],[110,11.8],[113,12.8],[116,12],[119,13.5],[122,14.8],[125,14],[128,15.2],[131,14.5],[134,16],[137,14.3],[140,15.3],[143,14],[145,12],[147,14.5],[149,13.5],[150.5,16.6],[152,11],[154,9.5],[156,8],[158,11],[160,7],[162,6.5],[164,3],[165.5,0],[167,8],[168,15.2],[169.5,6],[171,9],[173,5],[175,11.5],[176.5,4],[178,1],[180,7],[182,5],[184,3],[186,5.5],[188,4.5],[190,2.5],[193,3],[196,1.5],[199,0.5],[203,0],[210,0]];
const p5B = [[0,0],[8,0.3],[12,1.2],[14,2.4],[16,4.8],[18.5,10],[21,17.5],[23.3,22],[25.7,23],[28,20.8],[33,18.6],[38,17.2],[43,15.6],[47.4,14.5],[52,16.4],[57,18.6],[62,21],[66.6,24.6],[71.4,26.6],[76,27],[81,26.7],[86,25],[93,21.8],[100,18.4],[107.5,15.8],[114.7,14.1],[124,13.3],[134,13.6],[140,13.9],[147,14.2],[153,12.8],[160,10.6],[167,9],[174,8],[181,7.3],[187,6.8],[192,5.8],[196,4.3],[200,2.5],[203,1],[206,0.2],[220,0.1],[338,0.1]];
const p5C = [[0,0],[8,0.3],[12,1.2],[14,2.4],[16,5],[18.5,10.2],[21,17.6],[23.3,22.2],[25.7,23.2],[28,20.8],[33,18.8],[38,17.4],[43,15.8],[47.4,14.6],[52,16.5],[57,18.7],[62,21.1],[66.6,24.7],[71.4,26.6],[76,26.9],[81,26.6],[86,24.9],[93,21.7],[100,18.3],[107.5,15.7],[114.7,14],[124,13.2],[134,13.5],[140,13.8],[147,14.1],[153,12.7],[160,10.5],[167,8.9],[174,7.9],[181,7.2],[187,6.6],[192,5.6],[196,4.2],[200,2.5],[203,1],[206,0.2],[220,0.1],[338,0.1]];
const p5D = [[0,0],[8,0.3],[12,1.2],[14,2.5],[16,5],[18.5,10.5],[21,18],[23.3,22.5],[25.7,23.5],[28,21],[33,19],[38,17.6],[43,16],[47.4,14.8],[52,16.6],[57,18.8],[62,21.2],[66.6,24.8],[71.4,26.7],[76,27],[81,26.7],[86,25],[93,21.8],[100,18.4],[107.5,15.8],[114.7,14.1],[124,13.2],[134,13.5],[140,13.8],[147,14],[153,12.6],[160,10.4],[167,8.8],[174,7.7],[181,7],[187,6.4],[192,5.5],[196,4.2],[200,2.5],[203,1],[206,0.2],[220,0.1],[338,0.1]];
const p5E = [[0,0],[5,0.3],[8,1.5],[10,3.2],[11.5,4.5],[12.2,26.5],[12.8,8],[13.5,35],[14.2,15],[15,46.5],[15.8,47.2],[16.6,47],[17.2,30],[17.8,40],[18.5,27],[19.3,30],[20,15],[21,6],[22,4],[23.5,4.3],[25.5,6.5],[28,9.3],[31,12.5],[33,14],[36,17],[38,18.2],[41,18.6],[44,18],[47,17.4],[50,18.2],[55,19.5],[60,21.5],[64,23.2],[67,25],[70,26.3],[75,27],[80,27],[85,26.5],[90,24.5],[95,22],[100,19.5],[105,17.5],[110,16.2],[115,15.2],[120,14.8],[125,14],[130,13.7],[135,13.6],[140,13.8],[148,13.8],[152,13],[158,11.3],[163,10],[168,8.8],[175,7.5],[180,6.8],[185,6.3],[190,5.5],[195,4.2],[200,2.2],[205,0.8],[210,0.8],[220,0.8],[230,0.6],[240,0.4],[260,0.3],[300,0.3],[335,0.3]];
const p5F = [[0,0],[8,0.5],[12,1.5],[14,2.8],[16,5.5],[18.5,10.5],[21,17.5],[23.3,21.6],[25.7,22.5],[28,20.3],[33,18.5],[38,17.4],[43,16.3],[47.4,15.1],[52,17],[57,19],[62,21],[66.6,24.3],[71.4,26],[76,26.3],[81,26],[86,24.5],[93,21.3],[100,17.9],[107.5,15.3],[114.7,13.6],[124,12.6],[134,12.7],[140,13],[147,13.2],[153,12],[160,10],[167,8.5],[174,7.5],[181,6.8],[187,6.2],[192,5.3],[196,4],[200,2.5],[203,1],[206,0.2],[220,0.2],[338,0.2]];
const p5Exp = [[0,0],[3,17.1,1.14],[6,1.14,2.28],[9,2.28,0],[12,3.42,1.14],[15,2.28,4.56],[18,6.84,3.42],[20,10.26,12.54],[22,13.68,15.96],[24,18.24,19.38],[26,17.1,14.82],[28,15.96,17.1],[30,14.82,13.68],[32,15.96,12.54],[34,13.68,12.54],[36,12.54,11.4],[38,11.4,12.54],[41,11.4,12.54],[44,10.26,11.4],[47,12.54,11.4],[50,10.26,11.4],[53,9.12,10.26],[56,10.26,9.12],[59,9.12,7.98],[62,10.26,9.12],[65,9.12,10.26],[68,11.4,10.26],[71,10.26,11.4],[74,11.4,9.12],[77,10.26,11.4],[80,11.4,10.26],[83,10.26,9.12],[86,11.4,10.26],[89,10.26,11.4],[92,9.12,10.26],[95,10.26,9.12],[98,11.4,10.26],[101,10.26,9.12],[104,11.4,10.26],[107,9.12,10.26],[110,7.98,9.12],[113,10.26,11.4],[116,9.12,10.26],[119,11.4,10.26],[122,10.26,9.12],[125,11.4,10.26],[128,10.26,9.12],[131,9.12,7.98],[134,10.26,9.12],[137,9.12,10.26],[140,11.4,10.26],[143,10.26,9.12],[146,9.12,10.26],[149,7.98,9.12],[152,9.12,7.98],[155,7.98,6.84],[158,9.12,7.98],[161,6.84,7.98],[164,7.98,6.84],[167,6.84,7.98],[170,7.98,6.84],[173,6.84,5.7],[176,7.98,6.84],[179,6.84,5.7],[182,5.7,6.84],[185,6.84,5.7],[188,5.7,4.56],[191,6.84,5.7],[194,5.7,4.56],[197,4.56,3.42],[200,3.42,2.28],[203,2.28,4.56],[206,4.56,3.42],[209,2.28,1.14],[212,3.42,2.28],[215,1.14,2.28],[218,2.28,4.56],[221,3.42,1.14],[224,2.28,3.42],[227,1.14,2.28],[230,3.42,2.28],[233,2.28,1.14],[236,1.14,0],[239,2.28,3.42],[242,1.14,2.28],[245,2.28,3.42],[248,3.42,1.14],[251,2.28,1.14],[254,1.14,3.42],[257,2.28,1.14],[260,3.42,2.28],[263,1.14,2.28],[266,2.28,1.14],[269,1.14,0],[272,2.28,1.14],[275,1.14,2.28],[278,2.28,3.42],[281,1.14,0],[284,2.28,1.14],[287,3.42,2.28],[290,1.14,2.28],[293,2.28,1.14],[296,1.14,0],[299,2.28,1.14],[302,3.42,1.14],[305,2.28,1.14],[308,1.14,2.28],[311,2.28,1.14],[314,1.14,2.28],[317,2.28,1.14],[320,1.14,0],[323,2.28,1.14],[326,1.14,2.28],[329,0,1.14],[332,2.28,1.14],[335,1.14,0],[338,2.28,1.14],[341,0,1.14],[344,2.28,1.14],[347,1.14,2.28],[350,2.28,0]];

// ---------------- Panel 6: MA+A FRP @75 ----------------
const p6A = [[0,0],[60,0],[75,0.5],[85,5],[88,16.5],[90,10],[93,15],[95,9],[98,17],[100,12.5],[103,20.5],[106,16],[109,24.5],[112,18],[115,21],[118,16.5],[121,22],[124,18],[127,24],[130,19],[133,23.5],[136,21],[139,25.8],[142,20],[145,23],[148,18],[151,20.5],[154,17],[157,19.5],[160,16],[163,20.5],[166,14],[169,19],[172,13],[175,18],[178,11],[181,17],[184,12.5],[187,18.5],[190,16],[193,20],[196,17.5],[199,21],[202,19],[205,23.5],[208,20],[211,25.3],[214,22],[217,24.5],[220,20],[223,23],[226,18],[229,20.3],[232,15],[235,18],[238,14],[241,16],[244,12],[247,15],[250,11],[253,13.5],[256,10],[259,12.5],[262,9],[265,11.5],[268,8],[271,10.5],[274,7.5],[277,11],[280,6.5],[284,10],[288,7],[292,11],[296,6],[300,9.5],[304,5],[308,10.8],[312,4],[316,8],[320,2],[324,7],[328,5],[332,10.5],[336,3],[340,8],[344,4.5],[348,9.5],[352,2],[356,7],[360,0],[364,6],[368,3],[372,10],[376,5],[380,8],[384,2],[388,7.5],[392,4],[396,6.5],[400,1.5],[404,8],[408,3],[412,6],[416,0],[420,7.5],[424,3.5],[428,8],[432,2],[436,6],[440,4],[444,7.5],[448,1],[452,6.5],[456,3],[460,8],[464,4.5],[468,7],[472,3],[476,6],[480,4],[484,8],[488,3.5],[492,6.5],[496,4],[500,7],[504,3.5],[508,6],[512,4.5],[516,7.5],[520,4],[524,6],[528,5],[532,7.5],[536,4],[540,6.5],[544,5],[548,8],[552,4.5],[556,7],[560,5],[564,8.5],[568,5.5],[572,7.5],[576,6],[580,9],[585,7],[590,9.5],[595,11],[600,14.5],[604,11],[608,12],[612,10.5],[618,11.8],[625,12.2],[632,11],[640,10],[648,9],[656,8],[664,7.5],[672,6.5],[680,6],[688,5],[694,4],[698,1],[702,0],[706,9],[710,10.5],[714,5],[718,2],[722,0.5],[730,0]];
const p6B = [[0,0],[40,0],[55,0.1],[69,0.5],[83,1.5],[97,4.8],[111,10.2],[125,14.9],[135,18.9],[142,20.5],[150,19.5],[160,18],[172,17.5],[185,17.2],[195,17.8],[210,19],[222,20.3],[232,19.8],[245,18.6],[264,17.6],[278,15.8],[292,14.2],[305,12.2],[319,10.2],[333,8.5],[347,7.3],[360,6.5],[380,5.8],[400,5.5],[430,5.2],[460,5],[490,5],[520,5.1],[550,5.2],[580,5.6],[600,6.3],[620,7.5],[640,8.4],[655,8.7],[670,8.4],[690,7.3],[705,5.5],[720,3.5],[735,2],[750,1],[765,0.5],[780,0.3]];
const p6C = [[0,0],[40,0],[56,0.5],[69,2.5],[83,5.5],[97,11.5],[110,15.5],[125,19],[140,20.5],[150,19],[160,17.8],[172,17.5],[185,17],[195,17.5],[210,18.5],[222,20],[232,19.5],[245,18],[264,16.3],[278,14.5],[292,12.5],[305,10.5],[319,8.7],[333,7.2],[347,6.2],[370,5.3],[400,4.6],[430,4.2],[460,4],[500,3.8],[540,3.8],[570,4],[600,4.5],[630,5.3],[655,6],[670,6.5],[681,6.8],[695,6.3],[710,5],[725,3.2],[740,1.8],[755,0.8],[770,0.3]];
const p6D = [[0,0],[30,0],[45,0.5],[60,2.5],[75,5],[90,9.5],[105,14.5],[120,18.5],[135,20.8],[142,21],[150,19.5],[160,18],[172,17.3],[185,16.8],[195,17.5],[210,19],[222,20.2],[232,19.6],[245,18],[264,16],[278,14],[292,12],[305,10],[319,8.3],[333,7],[347,6.1],[370,5.2],[400,4.6],[430,4.1],[460,3.9],[500,3.9],[540,3.9],[570,4.1],[600,4.6],[625,5.6],[645,6.6],[665,7],[680,6.6],[695,5.6],[710,4],[725,2.5],[740,1.2],[755,0.5],[770,0.2]];
const p6E = [[0,0],[21,0],[30,0.8],[42,3.5],[52,5.5],[69,5.8],[83,7.5],[97,11.2],[104,14.9],[118,17.2],[132,21.3],[142,23.8],[153,21.3],[167,18.8],[180,18.3],[194,18.8],[208,19.6],[221,21.4],[236,19.8],[250,17.6],[264,15.6],[278,13.6],[292,11.5],[306,9.9],[319,8.2],[333,6.8],[347,6.2],[382,5.5],[417,5],[451,4.7],[486,4.5],[521,4.5],[556,5],[590,5.2],[611,6.2],[632,7],[645,7.1],[669,6.8],[693,5.1],[718,2.8],[742,1.3],[766,0.6],[799,0.45]];
const p6F = [[0,0],[21,0.3],[30,1.5],[42,4.5],[55,5.5],[69,7],[80,8.5],[90,11.5],[104,14.2],[118,16.5],[132,20.3],[142,22.1],[153,20],[167,18],[180,17.6],[185,17.5],[194,18],[208,19],[221,20.4],[236,19.2],[250,17.4],[264,15.6],[278,13.6],[292,11.6],[306,10],[319,8.4],[333,7],[347,6],[370,5.2],[400,4.7],[430,4.4],[460,4.3],[500,4.2],[540,4.2],[570,4.5],[600,5.1],[620,6.2],[640,7.2],[652,7.5],[665,7.2],[680,6.3],[695,5],[710,3.6],[725,2.4],[740,1.6],[760,1.2],[780,1],[800,0.85],[807,0.8]];
const p6Exp = [[0,0],[8,0],[16,0,2.28],[24,3.42,4.56],[32,4.56,5.7,2.28],[40,4.56,5.7,3.42],[48,4.56,5.7],[56,4.56,5.7,6.84],[64,4.56,5.7,6.84],[72,4.56,5.7,6.84],[80,4.56,5.7,6.84],[88,4.56,6.84,5.7],[96,9.12,7.98],[102,11.4,13.68,14.82],[110,21.6,12.54,11.4,10.26],[118,11.4,10.26,14.82,9.12],[126,11.4,10.26,9.12],[134,11.4,10.26,9.12],[142,10.26,9.12,11.4],[150,10.26,9.12],[158,6.84,5.7,7.98],[166,6.84,5.7,7.98],[174,5.7,6.84,7.98],[182,5.7,4.56,6.84],[190,9.12,7.98],[198,9.12,7.98,6.84],[206,9.12,10.26,7.98],[214,9.12,7.98],[222,9.12,7.98],[230,9.12,7.98],[238,9.12,7.98,6.84],[246,11.4,10.26,9.12],[254,12.54,10.26,9.12],[262,11.4,10.26,9.12],[270,10.26,9.12,7.98],[278,9.12,7.98,6.84],[286,7.98,6.84,5.7],[294,7.98,6.84,5.7,4.56],[302,7.98,6.84,5.7,9.12],[310,7.98,6.84,5.7],[318,7.98,6.84,5.7,4.56],[326,7.98,6.84,5.7,4.56],[334,7.98,6.84,5.7],[342,7.98,6.84,5.7,4.56],[350,7.98,6.84,5.7],[358,7.98,6.84,5.7,4.56],[366,7.98,6.84,5.7],[374,7.98,6.84,5.7,4.56],[382,7.98,6.84,5.7,9.12],[390,7.98,6.84,5.7,4.56],[398,7.98,6.84,5.7],[406,7.98,6.84,5.7,4.56],[414,7.98,6.84,5.7,2.28],[422,7.98,6.84,5.7,4.56],[430,7.98,6.84,5.7,9.12],[438,7.98,6.84,5.7,4.56],[446,10.26,7.98,6.84,5.7],[454,7.98,6.84,5.7,4.56],[462,7.98,6.84,5.7,9.12],[470,7.98,6.84,5.7,4.56],[478,7.98,6.84,5.7],[486,7.98,6.84,5.7,4.56],[494,7.98,6.84,5.7,9.12],[502,7.98,6.84,5.7,4.56],[510,7.98,6.84,5.7],[518,7.98,6.84,5.7,4.56],[526,7.98,6.84,5.7,9.12],[534,7.98,6.84,5.7,4.56],[542,7.98,6.84,5.7],[550,7.98,6.84,5.7,4.56],[558,7.98,6.84,5.7,9.12],[566,7.98,6.84,5.7,4.56],[574,7.98,6.84,5.7,4.56],[582,9.12,7.98,6.84,5.7],[590,9.12,7.98,6.84,5.7,4.56],[598,9.12,7.98,6.84,5.7],[606,9.12,7.98,6.84,5.7,4.56],[614,9.12,7.98,6.84,5.7,4.56],[622,9.12,7.98,6.84,5.7],[630,9.12,7.98,6.84,5.7,4.56],[638,9.12,7.98,6.84,5.7],[646,10.26,9.12,7.98,6.84],[654,10.26,9.12,7.98,6.84],[662,11.4,10.26,9.12,7.98],[670,11.4,10.26,9.12,7.98],[678,10.26,9.12,7.98,6.84],[686,9.12,7.98,6.84,5.7],[694,9.12,7.98,6.84,5.7],[702,9.12,7.98,6.84,5.7],[710,10.26,9.12,7.98,6.84],[718,9.12,7.98,6.84,5.7],[726,7.98,6.84,5.7,4.56],[734,7.98,6.84,5.7,4.56],[742,7.98,6.84,5.7,4.56],[750,7.98,6.84,5.7,4.56],[758,7.98,6.84,5.7,4.56],[766,7.98,6.84,5.7,4.56],[774,7.98,6.84,5.7,4.56],[782,7.98,5.7,4.56,3.42],[790,7.98,6.84,5.7,4.56,3.42],[798,7.98,6.84,5.7,4.56,3.42],[806,5.7,4.56,3.42],[812,6.84,2.28],[820,2.28,1.14,0],[828,2.28,1.14,0],[836,1.14,0],[844,2.28,1.14,0],[852,1.14,0],[860,1.14,0,3.42],[868,1.14,0],[876,2.28,1.14,0],[884,1.14,0],[892,1.14,0],[900,2.28,1.14,0],[908,1.14,0],[916,1.14,0],[924,2.28,1.14,0],[932,1.14,0],[940,1.14,0],[948,2.28,1.14,0],[956,1.14,0],[964,2.28,1.14,0],[972,2.28,1.14,0],[980,1.14,0],[988,2.28,1.14,0],[996,1.14,0],[1000,1.14,0]];

// ---------------- helpers ----------------
const toXY = (a: number[][]) => a.map(([x, y]) => ({ x, y }));
const rowsToXY = (rows: number[][]) => rows.flatMap((r) => r.slice(1).map((v) => ({ x: r[0], y: v })));

const DW = 3.6, DH = 4.0;
const Diamond = (props: any) => {
  const { cx, cy } = props;
  if (cx == null || cy == null || isNaN(cx) || isNaN(cy)) return null;
  return <polygon points={`${cx},${cy - DH} ${cx + DW},${cy} ${cx},${cy + DH} ${cx - DW},${cy}`} fill={COLORS.exp} />;
};

type Geo = { L: number; T: number; W: number; H: number };
type LegendCfg = { x: number; y: number; w: number; h: number; c1: number; dia: number; ex: number; c2: number; rows: number[] };
type PanelCfg = {
  geo: Geo; xMax: number; xTicks: number[]; yMax: number; yTicks: number[];
  series: Record<string, number[][]>; exp: number[][]; eWidth: number;
  title: string; titleBox: { x: number; y: number; w: number; h: number }; titleX: number; titleY: number; titleLen: number;
  legend: LegendCfg; ylabX: number;
};

const panels: PanelCfg[] = [
  { geo: { L: 97, T: 18, W: 483, H: 348 }, xMax: 350, xTicks: ticks350, yMax: 35, yTicks: yTicks35,
    series: { A: p1A, B: p1B, C: p1C, D: p1D, E: p1E, F: p1F }, exp: p1Exp, eWidth: 4,
    title: 'BrUPE FRP @50kW/m', titleBox: { x: 102, y: 30, w: 321, h: 42 }, titleX: 111, titleY: 59, titleLen: 303,
    legend: { x: 344, y: 72, w: 228, h: 123, c1: 8, dia: 35, ex: 67, c2: 122, rows: [15, 46, 76, 107] }, ylabX: 23 },
  { geo: { L: 716, T: 16, W: 479, H: 348 }, xMax: 2000, xTicks: ticks2000, yMax: 35, yTicks: yTicks35,
    series: { A: p2A, B: p2B, C: p2C, D: p2D, E: p2E, F: p2F }, exp: p2Exp, eWidth: 4.5,
    title: 'MA+A FRP @25kW/m', titleBox: { x: 724, y: 28, w: 322, h: 42 }, titleX: 735, titleY: 59, titleLen: 303,
    legend: { x: 727, y: 79, w: 231, h: 121, c1: 10, dia: 37, ex: 68, c2: 126, rows: [16, 47, 77, 107] }, ylabX: 646 },
  { geo: { L: 94, T: 508, W: 485, H: 348 }, xMax: 350, xTicks: ticks350, yMax: 45, yTicks: yTicks45,
    series: { A: p3A, B: p3B, C: p3C, D: p3D, E: p3E, F: p3F }, exp: p3Exp, eWidth: 2.5,
    title: 'BrUPE FRP @70kW/m', titleBox: { x: 101, y: 520, w: 322, h: 42 }, titleX: 111, titleY: 552, titleLen: 302,
    legend: { x: 331, y: 574, w: 241, h: 120, c1: 11, dia: 38, ex: 70, c2: 133, rows: [15, 45, 76, 106] }, ylabX: 24 },
  { geo: { L: 716, T: 506, W: 480, H: 348 }, xMax: 1200, xTicks: ticks1200, yMax: 35, yTicks: yTicks35,
    series: { A: p4A, B: p4B, C: p4C, D: p4D, E: p4E, F: p4F }, exp: p4Exp, eWidth: 4.5,
    title: 'MA+A FRP @50kW/m', titleBox: { x: 724, y: 518, w: 323, h: 42 }, titleX: 735, titleY: 550, titleLen: 303,
    legend: { x: 961, y: 567, w: 231, h: 122, c1: 8, dia: 35, ex: 67, c2: 124, rows: [16, 46, 76, 106] }, ylabX: 646 },
  { geo: { L: 95, T: 1001, W: 485, H: 346 }, xMax: 350, xTicks: ticks350, yMax: 60, yTicks: yTicks60,
    series: { A: p5A, B: p5B, C: p5C, D: p5D, E: p5E, F: p5F }, exp: p5Exp, eWidth: 4.5,
    title: 'BrUPE FRP @100kW/m', titleBox: { x: 101, y: 1013, w: 362, h: 40 }, titleX: 111, titleY: 1042, titleLen: 320,
    legend: { x: 331, y: 1066, w: 241, h: 126, c1: 11, dia: 38, ex: 70, c2: 133, rows: [17, 47, 79, 111] }, ylabX: 24 },
  { geo: { L: 716, T: 1001, W: 480, H: 347 }, xMax: 1000, xTicks: ticks1000, yMax: 35, yTicks: yTicks35,
    series: { A: p6A, B: p6B, C: p6C, D: p6D, E: p6E, F: p6F }, exp: p6Exp, eWidth: 4.5,
    title: 'MA+A FRP @75kW/m', titleBox: { x: 724, y: 1013, w: 323, h: 42 }, titleX: 735, titleY: 1042, titleLen: 303,
    legend: { x: 955, y: 1061, w: 231, h: 121, c1: 9, dia: 37, ex: 68, c2: 126, rows: [16, 46, 76, 106] }, ylabX: 646 },
];

const ML = 100, MT = 20, MR = 30, XH = 90;
const tickStyle = { fill: '#000', fontSize: 22, fontFamily: FONT };

function Panel({ cfg }: { cfg: PanelCfg }) {
  const { geo } = cfg;
  const order = ['A', 'B', 'C', 'D', 'E', 'F'];
  return (
    <div style={{ position: 'absolute', left: geo.L - ML, top: geo.T - MT }}>
      <ComposedChart width={geo.W + ML + MR} height={geo.H + MT + XH} margin={{ top: MT, right: MR, left: 0, bottom: 0 }}>
        <CartesianGrid stroke={GRID} strokeWidth={1.4} />
        <XAxis type="number" dataKey="x" domain={[0, cfg.xMax]} ticks={cfg.xTicks} interval={0} allowDataOverflow
          height={XH} tickSize={7} tickMargin={20} tick={tickStyle}
          axisLine={{ stroke: GRID, strokeWidth: 1.4 }} tickLine={{ stroke: GRID, strokeWidth: 1.4 }} />
        <YAxis type="number" dataKey="y" domain={[0, cfg.yMax]} ticks={cfg.yTicks} interval={0} allowDataOverflow
          width={ML} tickSize={8} tickMargin={17} tick={tickStyle}
          axisLine={{ stroke: GRID, strokeWidth: 1.4 }} tickLine={{ stroke: GRID, strokeWidth: 1.4 }} />
        {order.map((k) => (
          <Line key={k} data={toXY(cfg.series[k])} dataKey="y" type="linear" stroke={COLORS[k]}
            strokeWidth={k === 'E' ? cfg.eWidth : 4.5} dot={false} activeDot={false}
            strokeLinejoin="round" strokeLinecap="round" isAnimationActive={false} />
        ))}
        <Scatter data={rowsToXY(cfg.exp)} dataKey="y" shape={(p: any) => <Diamond {...p} />} isAnimationActive={false} />
      </ComposedChart>
    </div>
  );
}

function Overlay() {
  const entries: [string, number, number][] = [['B', 0, 1], ['C', 1, 1], ['D', 0, 2], ['E', 1, 2], ['F', 0, 3]];
  return (
    <svg width={1230} height={1429} style={{ position: 'absolute', left: 0, top: 0, pointerEvents: 'none' }}>
      {panels.map((p, i) => {
        const lg = p.legend;
        const { L, T, W, H } = p.geo;
        const r0 = lg.y + lg.rows[0];
        const dx = lg.x + lg.dia;
        return (
          <g key={i} fontFamily={FONT}>
            <rect x={p.titleBox.x} y={p.titleBox.y} width={p.titleBox.w} height={p.titleBox.h} fill="#fff" />
            <text x={p.titleX} y={p.titleY} fontSize={25} fontWeight={700} fill="#000" textLength={p.titleLen} lengthAdjust="spacingAndGlyphs">
              {p.title}<tspan dy={-9} fontSize={16}>2</tspan>
            </text>
            <rect x={lg.x} y={lg.y} width={lg.w} height={lg.h} fill="#fff" stroke={GRID} strokeWidth={1.4} />
            <polygon points={`${dx},${r0 - DH} ${dx + DW},${r0} ${dx},${r0 + DH} ${dx - DW},${r0}`} fill={COLORS.exp} />
            <text x={lg.x + lg.ex} y={r0} fontSize={22} dominantBaseline="central" fill="#000">exp</text>
            <line x1={lg.x + lg.c2} x2={lg.x + lg.c2 + 54} y1={r0} y2={r0} stroke={COLORS.A} strokeWidth={5} strokeLinecap="round" />
            <text x={lg.x + lg.c2 + 58} y={r0} fontSize={22} dominantBaseline="central" fill="#000">A</text>
            {entries.map(([name, col, row]) => {
              const cx = lg.x + (col === 0 ? lg.c1 : lg.c2);
              const cy = lg.y + lg.rows[row];
              return (
                <g key={name}>
                  <line x1={cx} x2={cx + 54} y1={cy} y2={cy} stroke={COLORS[name]} strokeWidth={5} strokeLinecap="round" />
                  <text x={cx + 58} y={cy} fontSize={22} dominantBaseline="central" fill="#000">{name}</text>
                </g>
              );
            })}
            <text x={L + W / 2} y={T + H + 64} fontSize={23} fontWeight={700} textAnchor="middle" dominantBaseline="central" fill="#000" textLength={82} lengthAdjust="spacingAndGlyphs">time (s)</text>
            <text transform={`translate(${p.ylabX}, ${T + H / 2}) rotate(-90)`} fontSize={23} fontWeight={700} textAnchor="middle" dominantBaseline="central" fill="#000" textLength={149} lengthAdjust="spacingAndGlyphs">MLR (g/s-m2)</text>
          </g>
        );
      })}
    </svg>
  );
}

export default function App() {
  return (
    <div style={{ position: 'absolute', left: 0, top: 0, width: 1230, height: 1429, background: '#fff', fontFamily: FONT }}>
      {panels.map((p, i) => <Panel key={i} cfg={p} />)}
      <Overlay />
    </div>
  );
}
